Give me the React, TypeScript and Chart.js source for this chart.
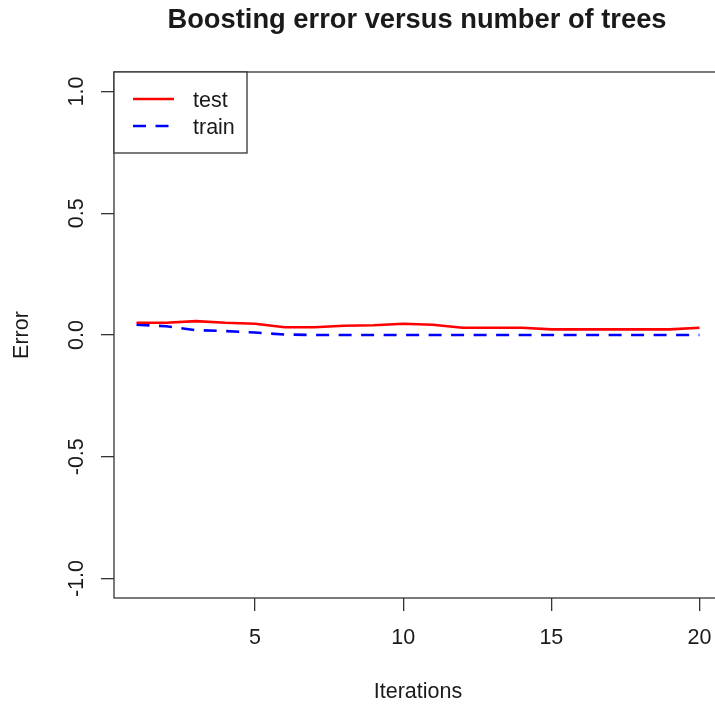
import React, { useEffect, useRef } from "react";
import { Chart, registerables } from "chart.js";

Chart.register(...registerables);

const iterations = [1, 2, 3, 4, 5, 6, 7, 8, 9, 10, 11, 12, 13, 14, 15, 16, 17, 18, 19, 20];
const testError = [0.05, 0.05, 0.057, 0.05, 0.046, 0.032, 0.032, 0.038, 0.04, 0.046, 0.042, 0.03, 0.03, 0.03, 0.023, 0.023, 0.023, 0.023, 0.023, 0.03];
const trainError = [0.042, 0.036, 0.02, 0.016, 0.01, 0.002, 0, 0, 0, 0, 0, 0, 0, 0, 0, 0, 0, 0, 0, 0];
const xTickValues = [5, 10, 15, 20];
const yTickValues = [-1, -0.5, 0, 0.5, 1];
const seriesNames = ["test", "train"];
const seriesColors = ["#ff0000", "#0000ff"];
const chartTitle = "Boosting error versus number of trees";
const xAxisTitle = "Iterations";
const yAxisTitle = "Error";

const FONT = "'Liberation Sans', Arial, Helvetica, sans-serif";
const AXIS_COLOR = "#333333";
const TEXT_COLOR = "#1a1a1a";
const TRAIN_DASH = [13, 9.5];

const decorPlugin = {
  id: "decor",
  afterDraw(chart: any) {
    const ctx = chart.ctx as CanvasRenderingContext2D;
    const a = chart.chartArea;
    ctx.save();
    // plot box
    ctx.strokeStyle = AXIS_COLOR;
    ctx.lineWidth = 1.3;
    ctx.strokeRect(a.left, a.top, a.right - a.left, a.bottom - a.top);

    // title
    const cx = (a.left + a.right) / 2;
    ctx.fillStyle = TEXT_COLOR;
    ctx.textAlign = "center";
    ctx.textBaseline = "middle";
    ctx.font = `bold 27.3px ${FONT}`;
    ctx.fillText(chartTitle, cx - 1, 20.5);

    // axis titles
    ctx.font = `21.5px ${FONT}`;
    ctx.fillText(xAxisTitle, cx, 692);
    ctx.save();
    ctx.translate(22, (a.top + a.bottom) / 2);
    ctx.rotate(-Math.PI / 2);
    ctx.fillText(yAxisTitle, 0, 0);
    ctx.restore();

    // legend
    const lx = a.left;
    const ly = a.top;
    ctx.fillStyle = "#ffffff";
    ctx.fillRect(lx, ly, 133, 81);
    ctx.strokeStyle = AXIS_COLOR;
    ctx.lineWidth = 1.3;
    ctx.strokeRect(lx, ly, 133, 81);
    const rows = [27, 54];
    seriesNames.forEach((name, i) => {
      const y = ly + rows[i];
      ctx.beginPath();
      ctx.strokeStyle = seriesColors[i];
      ctx.lineWidth = 2.6;
      ctx.setLineDash(i === 1 ? TRAIN_DASH : []);
      ctx.moveTo(lx + 19, y);
      ctx.lineTo(lx + (i === 1 ? 56 : 60), y);
      ctx.stroke();
      ctx.setLineDash([]);
      ctx.fillStyle = TEXT_COLOR;
      ctx.textAlign = "left";
      ctx.textBaseline = "middle";
      ctx.font = `21.5px ${FONT}`;
      ctx.fillText(name, lx + 79, y + 2);
    });
    ctx.restore();
  },
};

export default function App() {
  const canvasRef = useRef<HTMLCanvasElement | null>(null);

  useEffect(() => {
    const canvas = canvasRef.current;
    if (!canvas) return;
    const tickFont = { family: FONT, size: 21.5 };
    const chart = new Chart(canvas, {
      type: "line",
      data: {
        datasets: [
          {
            label: seriesNames[0],
            data: iterations.map((x, i) => ({ x, y: testError[i] })),
            borderColor: seriesColors[0],
            backgroundColor: seriesColors[0],
            borderWidth: 2.6,
            pointRadius: 0,
            tension: 0,
            fill: false,
          },
          {
            label: seriesNames[1],
            data: iterations.map((x, i) => ({ x, y: trainError[i] })),
            borderColor: seriesColors[1],
            backgroundColor: seriesColors[1],
            borderWidth: 2.6,
            borderDash: TRAIN_DASH,
            pointRadius: 0,
            tension: 0,
            fill: false,
          },
        ],
      },
      options: {
        animation: false,
        responsive: false,
        devicePixelRatio: 1,
        layout: { padding: { left: 0, top: 72, right: 8, bottom: 0 } },
        plugins: {
          legend: { display: false },
          tooltip: { enabled: false },
          title: { display: false },
        },
        scales: {
          x: {
            type: "linear",
            min: 0.24,
            max: 20.76,
            afterBuildTicks: (s: any) => {
              s.ticks = xTickValues.map((v) => ({ value: v }));
            },
            afterFit: (s: any) => {
              s.height = 108;
            },
            ticks: {
              font: tickFont,
              color: TEXT_COLOR,
              padding: 14,
              maxRotation: 0,
              minRotation: 0,
              autoSkip: false,
              callback: (v: any) => String(v),
            },
            grid: {
              drawOnChartArea: false,
              drawTicks: true,
              tickLength: 13,
              color: AXIS_COLOR,
              lineWidth: 1.3,
            },
            border: { display: false },
          },
          y: {
            type: "linear",
            min: -1.08,
            max: 1.08,
            afterBuildTicks: (s: any) => {
              s.ticks = yTickValues.map((v) => ({ value: v }));
            },
            afterFit: (s: any) => {
              s.width = 114;
            },
            ticks: {
              font: tickFont,
              color: TEXT_COLOR,
              padding: 5.5,
              minRotation: 90,
              maxRotation: 90,
              crossAlign: "center",
              autoSkip: false,
              callback: (v: any) => Number(v).toFixed(1),
            },
            grid: {
              drawOnChartArea: false,
              drawTicks: true,
              tickLength: 13,
              color: AXIS_COLOR,
              lineWidth: 1.3,
            },
            border: { display: false },
          },
        },
      } as any,
      plugins: [decorPlugin],
    });
    return () => chart.destroy();
  }, []);

  return (
    <div
      style={{
        position: "fixed",
        left: 0,
        top: 0,
        width: 715,
        height: 706,
        overflow: "hidden",
        background: "#ffffff",
      }}
    >
      <canvas ref={canvasRef} width={730} height={706} style={{ display: "block", width: 730, height: 706 }} />
    </div>
  );
}
